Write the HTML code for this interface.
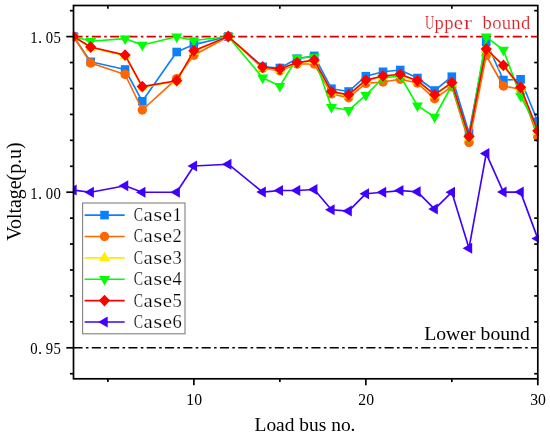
<!DOCTYPE html><html><head><meta charset="utf-8"><style>html,body{margin:0;padding:0;background:#fff}svg{display:block}text{font-family:"Liberation Serif",serif}</style></head><body>
<svg width="550" height="438" viewBox="0 0 550 438">
<rect width="550" height="438" fill="#fff"/>
<defs><clipPath id="cp"><rect x="72.9" y="5.5" width="465.79999999999995" height="373.3"/></clipPath><filter id="g" x="-5%" y="-5%" width="110%" height="110%" color-interpolation-filters="sRGB"><feOffset dx="0" dy="0"/></filter></defs>
<line x1="73.5" y1="36.6" x2="537.8" y2="36.6" stroke="#d40000" stroke-width="1.55" stroke-dasharray="9.1 3.3 2.6 3.3"/>
<line x1="73.5" y1="347.8" x2="537.8" y2="347.8" stroke="#000" stroke-width="1.45" stroke-dasharray="9.1 3.3 2.6 3.3"/>
<g clip-path="url(#cp)">
<polyline points="73.50,36.50 90.70,61.80 125.09,69.50 142.29,101.30 176.68,52.00 193.87,44.60 228.27,36.50 262.66,66.80 279.86,68.00 297.05,58.70 314.25,55.90 331.44,88.70 348.64,91.50 365.84,76.20 383.03,71.80 400.23,70.00 417.43,78.00 434.62,90.50 451.82,76.70 469.01,133.00 486.21,41.80 503.41,80.00 520.60,79.30 537.80,121.80" fill="none" stroke="#0a80ff" stroke-width="1.65" stroke-linejoin="round"/>
<rect x="69.20" y="32.20" width="8.6" height="8.6" fill="#0a80ff"/>
<rect x="86.40" y="57.50" width="8.6" height="8.6" fill="#0a80ff"/>
<rect x="120.79" y="65.20" width="8.6" height="8.6" fill="#0a80ff"/>
<rect x="137.99" y="97.00" width="8.6" height="8.6" fill="#0a80ff"/>
<rect x="172.38" y="47.70" width="8.6" height="8.6" fill="#0a80ff"/>
<rect x="189.57" y="40.30" width="8.6" height="8.6" fill="#0a80ff"/>
<rect x="223.97" y="32.20" width="8.6" height="8.6" fill="#0a80ff"/>
<rect x="258.36" y="62.50" width="8.6" height="8.6" fill="#0a80ff"/>
<rect x="275.56" y="63.70" width="8.6" height="8.6" fill="#0a80ff"/>
<rect x="292.75" y="54.40" width="8.6" height="8.6" fill="#0a80ff"/>
<rect x="309.95" y="51.60" width="8.6" height="8.6" fill="#0a80ff"/>
<rect x="327.14" y="84.40" width="8.6" height="8.6" fill="#0a80ff"/>
<rect x="344.34" y="87.20" width="8.6" height="8.6" fill="#0a80ff"/>
<rect x="361.54" y="71.90" width="8.6" height="8.6" fill="#0a80ff"/>
<rect x="378.73" y="67.50" width="8.6" height="8.6" fill="#0a80ff"/>
<rect x="395.93" y="65.70" width="8.6" height="8.6" fill="#0a80ff"/>
<rect x="413.13" y="73.70" width="8.6" height="8.6" fill="#0a80ff"/>
<rect x="430.32" y="86.20" width="8.6" height="8.6" fill="#0a80ff"/>
<rect x="447.52" y="72.40" width="8.6" height="8.6" fill="#0a80ff"/>
<rect x="464.71" y="128.70" width="8.6" height="8.6" fill="#0a80ff"/>
<rect x="481.91" y="37.50" width="8.6" height="8.6" fill="#0a80ff"/>
<rect x="499.11" y="75.70" width="8.6" height="8.6" fill="#0a80ff"/>
<rect x="516.30" y="75.00" width="8.6" height="8.6" fill="#0a80ff"/>
<rect x="533.50" y="117.50" width="8.6" height="8.6" fill="#0a80ff"/>
<polyline points="73.50,36.50 90.70,63.00 125.09,74.50 142.29,110.00 176.68,78.60 193.87,55.20 228.27,36.50 262.66,68.30 279.86,70.70 297.05,64.00 314.25,64.00 331.44,93.90 348.64,97.70 365.84,83.40 383.03,82.00 400.23,79.30 417.43,83.00 434.62,98.80 451.82,86.70 469.01,142.50 486.21,55.50 503.41,86.00 520.60,89.30 537.80,137.00" fill="none" stroke="#ff6600" stroke-width="1.65" stroke-linejoin="round"/>
<circle cx="73.50" cy="36.50" r="4.7" fill="#ff6600"/>
<circle cx="90.70" cy="63.00" r="4.7" fill="#ff6600"/>
<circle cx="125.09" cy="74.50" r="4.7" fill="#ff6600"/>
<circle cx="142.29" cy="110.00" r="4.7" fill="#ff6600"/>
<circle cx="176.68" cy="78.60" r="4.7" fill="#ff6600"/>
<circle cx="193.87" cy="55.20" r="4.7" fill="#ff6600"/>
<circle cx="228.27" cy="36.50" r="4.7" fill="#ff6600"/>
<circle cx="262.66" cy="68.30" r="4.7" fill="#ff6600"/>
<circle cx="279.86" cy="70.70" r="4.7" fill="#ff6600"/>
<circle cx="297.05" cy="64.00" r="4.7" fill="#ff6600"/>
<circle cx="314.25" cy="64.00" r="4.7" fill="#ff6600"/>
<circle cx="331.44" cy="93.90" r="4.7" fill="#ff6600"/>
<circle cx="348.64" cy="97.70" r="4.7" fill="#ff6600"/>
<circle cx="365.84" cy="83.40" r="4.7" fill="#ff6600"/>
<circle cx="383.03" cy="82.00" r="4.7" fill="#ff6600"/>
<circle cx="400.23" cy="79.30" r="4.7" fill="#ff6600"/>
<circle cx="417.43" cy="83.00" r="4.7" fill="#ff6600"/>
<circle cx="434.62" cy="98.80" r="4.7" fill="#ff6600"/>
<circle cx="451.82" cy="86.70" r="4.7" fill="#ff6600"/>
<circle cx="469.01" cy="142.50" r="4.7" fill="#ff6600"/>
<circle cx="486.21" cy="55.50" r="4.7" fill="#ff6600"/>
<circle cx="503.41" cy="86.00" r="4.7" fill="#ff6600"/>
<circle cx="520.60" cy="89.30" r="4.7" fill="#ff6600"/>
<circle cx="537.80" cy="137.00" r="4.7" fill="#ff6600"/>
<polyline points="73.50,36.50 90.70,47.70 125.09,55.80 142.29,87.30 176.68,81.40 193.87,51.50 228.27,36.50 262.66,67.70 279.86,69.80 297.05,63.30 314.25,60.80 331.44,92.30 348.64,95.40 365.84,80.80 383.03,76.70 400.23,75.00 417.43,81.40 434.62,95.40 451.82,83.30 469.01,137.20 486.21,49.70 503.41,66.00 520.60,88.00 537.80,131.50" fill="none" stroke="#ffee00" stroke-width="1.65" stroke-linejoin="round"/>
<polygon points="73.50,30.15 68.00,39.68 79.00,39.68" fill="#ffee00"/>
<polygon points="90.70,41.35 85.20,50.88 96.20,50.88" fill="#ffee00"/>
<polygon points="125.09,49.45 119.59,58.98 130.59,58.98" fill="#ffee00"/>
<polygon points="142.29,80.95 136.79,90.48 147.79,90.48" fill="#ffee00"/>
<polygon points="176.68,75.05 171.18,84.58 182.18,84.58" fill="#ffee00"/>
<polygon points="193.87,45.15 188.37,54.68 199.37,54.68" fill="#ffee00"/>
<polygon points="228.27,30.15 222.77,39.68 233.77,39.68" fill="#ffee00"/>
<polygon points="262.66,61.35 257.16,70.88 268.16,70.88" fill="#ffee00"/>
<polygon points="279.86,63.45 274.36,72.98 285.36,72.98" fill="#ffee00"/>
<polygon points="297.05,56.95 291.55,66.48 302.55,66.48" fill="#ffee00"/>
<polygon points="314.25,54.45 308.75,63.98 319.75,63.98" fill="#ffee00"/>
<polygon points="331.44,85.95 325.94,95.48 336.94,95.48" fill="#ffee00"/>
<polygon points="348.64,89.05 343.14,98.58 354.14,98.58" fill="#ffee00"/>
<polygon points="365.84,74.45 360.34,83.98 371.34,83.98" fill="#ffee00"/>
<polygon points="383.03,70.35 377.53,79.88 388.53,79.88" fill="#ffee00"/>
<polygon points="400.23,68.65 394.73,78.18 405.73,78.18" fill="#ffee00"/>
<polygon points="417.43,75.05 411.93,84.58 422.93,84.58" fill="#ffee00"/>
<polygon points="434.62,89.05 429.12,98.58 440.12,98.58" fill="#ffee00"/>
<polygon points="451.82,76.95 446.32,86.48 457.32,86.48" fill="#ffee00"/>
<polygon points="469.01,130.85 463.51,140.38 474.51,140.38" fill="#ffee00"/>
<polygon points="486.21,43.35 480.71,52.88 491.71,52.88" fill="#ffee00"/>
<polygon points="503.41,59.65 497.91,69.18 508.91,69.18" fill="#ffee00"/>
<polygon points="520.60,81.65 515.10,91.18 526.10,91.18" fill="#ffee00"/>
<polygon points="537.80,125.15 532.30,134.68 543.30,134.68" fill="#ffee00"/>
<polyline points="73.50,36.50 90.70,41.30 125.09,38.60 142.29,45.00 176.68,36.80 193.87,40.50 228.27,36.50 262.66,77.80 279.86,86.10 297.05,58.00 314.25,56.90 331.44,107.20 348.64,110.30 365.84,95.10 383.03,78.00 400.23,76.00 417.43,105.60 434.62,117.00 451.82,85.50 469.01,138.00 486.21,36.80 503.41,50.00 520.60,96.00 537.80,128.80" fill="none" stroke="#00ff00" stroke-width="1.65" stroke-linejoin="round"/>
<polygon points="73.50,42.85 68.00,33.32 79.00,33.32" fill="#00ff00"/>
<polygon points="90.70,47.65 85.20,38.12 96.20,38.12" fill="#00ff00"/>
<polygon points="125.09,44.95 119.59,35.42 130.59,35.42" fill="#00ff00"/>
<polygon points="142.29,51.35 136.79,41.82 147.79,41.82" fill="#00ff00"/>
<polygon points="176.68,43.15 171.18,33.62 182.18,33.62" fill="#00ff00"/>
<polygon points="193.87,46.85 188.37,37.32 199.37,37.32" fill="#00ff00"/>
<polygon points="228.27,42.85 222.77,33.32 233.77,33.32" fill="#00ff00"/>
<polygon points="262.66,84.15 257.16,74.62 268.16,74.62" fill="#00ff00"/>
<polygon points="279.86,92.45 274.36,82.92 285.36,82.92" fill="#00ff00"/>
<polygon points="297.05,64.35 291.55,54.82 302.55,54.82" fill="#00ff00"/>
<polygon points="314.25,63.25 308.75,53.72 319.75,53.72" fill="#00ff00"/>
<polygon points="331.44,113.55 325.94,104.02 336.94,104.02" fill="#00ff00"/>
<polygon points="348.64,116.65 343.14,107.12 354.14,107.12" fill="#00ff00"/>
<polygon points="365.84,101.45 360.34,91.92 371.34,91.92" fill="#00ff00"/>
<polygon points="383.03,84.35 377.53,74.82 388.53,74.82" fill="#00ff00"/>
<polygon points="400.23,82.35 394.73,72.82 405.73,72.82" fill="#00ff00"/>
<polygon points="417.43,111.95 411.93,102.42 422.93,102.42" fill="#00ff00"/>
<polygon points="434.62,123.35 429.12,113.82 440.12,113.82" fill="#00ff00"/>
<polygon points="451.82,91.85 446.32,82.32 457.32,82.32" fill="#00ff00"/>
<polygon points="469.01,144.35 463.51,134.82 474.51,134.82" fill="#00ff00"/>
<polygon points="486.21,43.15 480.71,33.62 491.71,33.62" fill="#00ff00"/>
<polygon points="503.41,56.35 497.91,46.82 508.91,46.82" fill="#00ff00"/>
<polygon points="520.60,102.35 515.10,92.82 526.10,92.82" fill="#00ff00"/>
<polygon points="537.80,135.15 532.30,125.62 543.30,125.62" fill="#00ff00"/>
<polyline points="73.50,36.50 90.70,47.00 125.09,55.10 142.29,86.60 176.68,80.70 193.87,50.80 228.27,36.50 262.66,67.00 279.86,69.10 297.05,62.60 314.25,60.10 331.44,91.60 348.64,94.70 365.84,80.10 383.03,76.00 400.23,74.30 417.43,80.70 434.62,94.70 451.82,82.60 469.01,136.50 486.21,49.00 503.41,65.30 520.60,87.30 537.80,130.80" fill="none" stroke="#ff0000" stroke-width="1.65" stroke-linejoin="round"/>
<polygon points="73.50,30.60 79.10,36.50 73.50,42.40 67.90,36.50" fill="#ff0000"/>
<polygon points="90.70,41.10 96.30,47.00 90.70,52.90 85.10,47.00" fill="#ff0000"/>
<polygon points="125.09,49.20 130.69,55.10 125.09,61.00 119.49,55.10" fill="#ff0000"/>
<polygon points="142.29,80.70 147.89,86.60 142.29,92.50 136.69,86.60" fill="#ff0000"/>
<polygon points="176.68,74.80 182.28,80.70 176.68,86.60 171.08,80.70" fill="#ff0000"/>
<polygon points="193.87,44.90 199.47,50.80 193.87,56.70 188.27,50.80" fill="#ff0000"/>
<polygon points="228.27,30.60 233.87,36.50 228.27,42.40 222.67,36.50" fill="#ff0000"/>
<polygon points="262.66,61.10 268.26,67.00 262.66,72.90 257.06,67.00" fill="#ff0000"/>
<polygon points="279.86,63.20 285.46,69.10 279.86,75.00 274.26,69.10" fill="#ff0000"/>
<polygon points="297.05,56.70 302.65,62.60 297.05,68.50 291.45,62.60" fill="#ff0000"/>
<polygon points="314.25,54.20 319.85,60.10 314.25,66.00 308.65,60.10" fill="#ff0000"/>
<polygon points="331.44,85.70 337.04,91.60 331.44,97.50 325.84,91.60" fill="#ff0000"/>
<polygon points="348.64,88.80 354.24,94.70 348.64,100.60 343.04,94.70" fill="#ff0000"/>
<polygon points="365.84,74.20 371.44,80.10 365.84,86.00 360.24,80.10" fill="#ff0000"/>
<polygon points="383.03,70.10 388.63,76.00 383.03,81.90 377.43,76.00" fill="#ff0000"/>
<polygon points="400.23,68.40 405.83,74.30 400.23,80.20 394.63,74.30" fill="#ff0000"/>
<polygon points="417.43,74.80 423.03,80.70 417.43,86.60 411.83,80.70" fill="#ff0000"/>
<polygon points="434.62,88.80 440.22,94.70 434.62,100.60 429.02,94.70" fill="#ff0000"/>
<polygon points="451.82,76.70 457.42,82.60 451.82,88.50 446.22,82.60" fill="#ff0000"/>
<polygon points="469.01,130.60 474.61,136.50 469.01,142.40 463.41,136.50" fill="#ff0000"/>
<polygon points="486.21,43.10 491.81,49.00 486.21,54.90 480.61,49.00" fill="#ff0000"/>
<polygon points="503.41,59.40 509.01,65.30 503.41,71.20 497.81,65.30" fill="#ff0000"/>
<polygon points="520.60,81.40 526.20,87.30 520.60,93.20 515.00,87.30" fill="#ff0000"/>
<polygon points="537.80,124.90 543.40,130.80 537.80,136.70 532.20,130.80" fill="#ff0000"/>
<polyline points="73.50,190.10 90.70,192.20 125.09,185.70 142.29,192.20 176.68,192.20 193.87,166.00 228.27,164.20 262.66,192.10 279.86,190.50 297.05,190.50 314.25,189.50 331.44,209.70 348.64,211.10 365.84,193.70 383.03,192.30 400.23,190.60 417.43,191.80 434.62,209.10 451.82,192.20 469.01,248.20 486.21,153.60 503.41,192.10 520.60,192.10 537.80,238.60" fill="none" stroke="#4000ff" stroke-width="1.65" stroke-linejoin="round"/>
<polygon points="67.15,190.10 76.68,184.60 76.68,195.60" fill="#4000ff"/>
<polygon points="84.35,192.20 93.87,186.70 93.87,197.70" fill="#4000ff"/>
<polygon points="118.74,185.70 128.26,180.20 128.26,191.20" fill="#4000ff"/>
<polygon points="135.93,192.20 145.46,186.70 145.46,197.70" fill="#4000ff"/>
<polygon points="170.33,192.20 179.85,186.70 179.85,197.70" fill="#4000ff"/>
<polygon points="187.52,166.00 197.05,160.50 197.05,171.50" fill="#4000ff"/>
<polygon points="221.92,164.20 231.44,158.70 231.44,169.70" fill="#4000ff"/>
<polygon points="256.31,192.10 265.83,186.60 265.83,197.60" fill="#4000ff"/>
<polygon points="273.50,190.50 283.03,185.00 283.03,196.00" fill="#4000ff"/>
<polygon points="290.70,190.50 300.23,185.00 300.23,196.00" fill="#4000ff"/>
<polygon points="307.90,189.50 317.42,184.00 317.42,195.00" fill="#4000ff"/>
<polygon points="325.09,209.70 334.62,204.20 334.62,215.20" fill="#4000ff"/>
<polygon points="342.29,211.10 351.82,205.60 351.82,216.60" fill="#4000ff"/>
<polygon points="359.49,193.70 369.01,188.20 369.01,199.20" fill="#4000ff"/>
<polygon points="376.68,192.30 386.21,186.80 386.21,197.80" fill="#4000ff"/>
<polygon points="393.88,190.60 403.41,185.10 403.41,196.10" fill="#4000ff"/>
<polygon points="411.08,191.80 420.60,186.30 420.60,197.30" fill="#4000ff"/>
<polygon points="428.27,209.10 437.80,203.60 437.80,214.60" fill="#4000ff"/>
<polygon points="445.47,192.20 454.99,186.70 454.99,197.70" fill="#4000ff"/>
<polygon points="462.66,248.20 472.19,242.70 472.19,253.70" fill="#4000ff"/>
<polygon points="479.86,153.60 489.39,148.10 489.39,159.10" fill="#4000ff"/>
<polygon points="497.06,192.10 506.58,186.60 506.58,197.60" fill="#4000ff"/>
<polygon points="514.25,192.10 523.78,186.60 523.78,197.60" fill="#4000ff"/>
<polygon points="531.45,238.60 540.98,233.10 540.98,244.10" fill="#4000ff"/>
</g>
<rect x="73.5" y="5.5" width="464.29999999999995" height="373.3" fill="none" stroke="#000" stroke-width="1.7"/>
<line x1="69.9" y1="10.67" x2="73.5" y2="10.67" stroke="#000" stroke-width="1.7"/>
<line x1="534.1999999999999" y1="10.67" x2="537.8" y2="10.67" stroke="#000" stroke-width="1.7"/>
<line x1="66.3" y1="36.60" x2="73.5" y2="36.60" stroke="#000" stroke-width="1.7"/>
<line x1="69.9" y1="62.53" x2="73.5" y2="62.53" stroke="#000" stroke-width="1.7"/>
<line x1="534.1999999999999" y1="62.53" x2="537.8" y2="62.53" stroke="#000" stroke-width="1.7"/>
<line x1="69.9" y1="88.47" x2="73.5" y2="88.47" stroke="#000" stroke-width="1.7"/>
<line x1="534.1999999999999" y1="88.47" x2="537.8" y2="88.47" stroke="#000" stroke-width="1.7"/>
<line x1="69.9" y1="114.40" x2="73.5" y2="114.40" stroke="#000" stroke-width="1.7"/>
<line x1="534.1999999999999" y1="114.40" x2="537.8" y2="114.40" stroke="#000" stroke-width="1.7"/>
<line x1="69.9" y1="140.33" x2="73.5" y2="140.33" stroke="#000" stroke-width="1.7"/>
<line x1="534.1999999999999" y1="140.33" x2="537.8" y2="140.33" stroke="#000" stroke-width="1.7"/>
<line x1="69.9" y1="166.27" x2="73.5" y2="166.27" stroke="#000" stroke-width="1.7"/>
<line x1="534.1999999999999" y1="166.27" x2="537.8" y2="166.27" stroke="#000" stroke-width="1.7"/>
<line x1="66.3" y1="192.20" x2="73.5" y2="192.20" stroke="#000" stroke-width="1.7"/>
<line x1="69.9" y1="218.13" x2="73.5" y2="218.13" stroke="#000" stroke-width="1.7"/>
<line x1="534.1999999999999" y1="218.13" x2="537.8" y2="218.13" stroke="#000" stroke-width="1.7"/>
<line x1="69.9" y1="244.07" x2="73.5" y2="244.07" stroke="#000" stroke-width="1.7"/>
<line x1="534.1999999999999" y1="244.07" x2="537.8" y2="244.07" stroke="#000" stroke-width="1.7"/>
<line x1="69.9" y1="270.00" x2="73.5" y2="270.00" stroke="#000" stroke-width="1.7"/>
<line x1="534.1999999999999" y1="270.00" x2="537.8" y2="270.00" stroke="#000" stroke-width="1.7"/>
<line x1="69.9" y1="295.93" x2="73.5" y2="295.93" stroke="#000" stroke-width="1.7"/>
<line x1="534.1999999999999" y1="295.93" x2="537.8" y2="295.93" stroke="#000" stroke-width="1.7"/>
<line x1="69.9" y1="321.87" x2="73.5" y2="321.87" stroke="#000" stroke-width="1.7"/>
<line x1="534.1999999999999" y1="321.87" x2="537.8" y2="321.87" stroke="#000" stroke-width="1.7"/>
<line x1="66.3" y1="347.80" x2="73.5" y2="347.80" stroke="#000" stroke-width="1.7"/>
<line x1="69.9" y1="373.73" x2="73.5" y2="373.73" stroke="#000" stroke-width="1.7"/>
<line x1="534.1999999999999" y1="373.73" x2="537.8" y2="373.73" stroke="#000" stroke-width="1.7"/>
<line x1="107.89" y1="378.8" x2="107.89" y2="382.1" stroke="#000" stroke-width="1.7"/>
<line x1="107.89" y1="5.5" x2="107.89" y2="8.8" stroke="#000" stroke-width="1.7"/>
<line x1="193.87" y1="378.8" x2="193.87" y2="385.3" stroke="#000" stroke-width="1.7"/>
<line x1="279.86" y1="378.8" x2="279.86" y2="382.1" stroke="#000" stroke-width="1.7"/>
<line x1="279.86" y1="5.5" x2="279.86" y2="8.8" stroke="#000" stroke-width="1.7"/>
<line x1="365.84" y1="378.8" x2="365.84" y2="385.3" stroke="#000" stroke-width="1.7"/>
<line x1="451.82" y1="378.8" x2="451.82" y2="382.1" stroke="#000" stroke-width="1.7"/>
<line x1="451.82" y1="5.5" x2="451.82" y2="8.8" stroke="#000" stroke-width="1.7"/>
<line x1="537.80" y1="378.8" x2="537.80" y2="385.3" stroke="#000" stroke-width="1.7"/>
<g filter="url(#g)">
<text transform="translate(33.88,42.9) scale(0.887,1)" font-size="16.6" text-anchor="middle" fill="#000" stroke="#fff" stroke-width="0.0">1</text><text transform="translate(40.08,42.9) scale(1.000,1)" font-size="16.6" text-anchor="middle" fill="#000" stroke="#fff" stroke-width="0.0">.</text><text transform="translate(49.38,42.9) scale(0.887,1)" font-size="16.6" text-anchor="middle" fill="#000" stroke="#fff" stroke-width="0.0">0</text><text transform="translate(57.12,42.9) scale(0.887,1)" font-size="16.6" text-anchor="middle" fill="#000" stroke="#fff" stroke-width="0.0">5</text>
<text transform="translate(33.88,198.50000000000003) scale(0.887,1)" font-size="16.6" text-anchor="middle" fill="#000" stroke="#fff" stroke-width="0.0">1</text><text transform="translate(40.08,198.50000000000003) scale(1.000,1)" font-size="16.6" text-anchor="middle" fill="#000" stroke="#fff" stroke-width="0.0">.</text><text transform="translate(49.38,198.50000000000003) scale(0.887,1)" font-size="16.6" text-anchor="middle" fill="#000" stroke="#fff" stroke-width="0.0">0</text><text transform="translate(57.12,198.50000000000003) scale(0.887,1)" font-size="16.6" text-anchor="middle" fill="#000" stroke="#fff" stroke-width="0.0">0</text>
<text transform="translate(33.88,354.1) scale(0.887,1)" font-size="16.6" text-anchor="middle" fill="#000" stroke="#fff" stroke-width="0.0">0</text><text transform="translate(40.08,354.1) scale(1.000,1)" font-size="16.6" text-anchor="middle" fill="#000" stroke="#fff" stroke-width="0.0">.</text><text transform="translate(49.38,354.1) scale(0.887,1)" font-size="16.6" text-anchor="middle" fill="#000" stroke="#fff" stroke-width="0.0">9</text><text transform="translate(57.12,354.1) scale(0.887,1)" font-size="16.6" text-anchor="middle" fill="#000" stroke="#fff" stroke-width="0.0">5</text>
<text x="194.17" y="405.0" font-size="15.7" text-anchor="middle">10</text>
<text x="366.14" y="405.0" font-size="15.7" text-anchor="middle">20</text>
<text x="538.10" y="405.0" font-size="15.7" text-anchor="middle">30</text>
<text x="305" y="431.4" font-size="19.45" text-anchor="middle">Load bus no.</text>
<text transform="translate(21.4,191.6) rotate(-90)" font-size="19.9" text-anchor="middle">Voltage(p.u)</text>
<text x="477.0" y="339.7" font-size="19.7" text-anchor="middle">Lower bound</text>
<text transform="translate(429.60,28.7) scale(0.668,1)" font-size="19.3" text-anchor="middle" fill="#d62428" stroke="#fff" stroke-width="0.15">U</text><text transform="translate(439.20,28.7) scale(0.965,1)" font-size="19.3" text-anchor="middle" fill="#d62428" stroke="#fff" stroke-width="0.15">p</text><text transform="translate(448.80,28.7) scale(0.965,1)" font-size="19.3" text-anchor="middle" fill="#d62428" stroke="#fff" stroke-width="0.15">p</text><text transform="translate(458.40,28.7) scale(1.087,1)" font-size="19.3" text-anchor="middle" fill="#d62428" stroke="#fff" stroke-width="0.15">e</text><text transform="translate(468.00,28.7) scale(1.250,1)" font-size="19.3" text-anchor="middle" fill="#d62428" stroke="#fff" stroke-width="0.15">r</text><text transform="translate(487.20,28.7) scale(0.965,1)" font-size="19.3" text-anchor="middle" fill="#d62428" stroke="#fff" stroke-width="0.15">b</text><text transform="translate(496.80,28.7) scale(0.965,1)" font-size="19.3" text-anchor="middle" fill="#d62428" stroke="#fff" stroke-width="0.15">o</text><text transform="translate(506.40,28.7) scale(0.965,1)" font-size="19.3" text-anchor="middle" fill="#d62428" stroke="#fff" stroke-width="0.15">u</text><text transform="translate(516.00,28.7) scale(0.965,1)" font-size="19.3" text-anchor="middle" fill="#d62428" stroke="#fff" stroke-width="0.15">n</text><text transform="translate(525.60,28.7) scale(0.965,1)" font-size="19.3" text-anchor="middle" fill="#d62428" stroke="#fff" stroke-width="0.15">d</text>
</g>
<rect x="82.6" y="203.0" width="102.4" height="130.8" fill="#fff" stroke="#808080" stroke-width="1.1"/>
<line x1="84.6" y1="215.10" x2="124.7" y2="215.10" stroke="#0a80ff" stroke-width="1.7"/>
<rect x="100.20" y="210.80" width="8.6" height="8.6" fill="#0a80ff"/>
<g filter="url(#g)"><text transform="translate(138.42,221.0) scale(0.747,1)" font-size="18.6" text-anchor="middle" fill="#000" stroke="#fff" stroke-width="0.2">C</text><text transform="translate(148.07,221.0) scale(1.122,1)" font-size="18.6" text-anchor="middle" fill="#000" stroke="#fff" stroke-width="0.2">a</text><text transform="translate(157.72,221.0) scale(1.250,1)" font-size="18.6" text-anchor="middle" fill="#000" stroke="#fff" stroke-width="0.2">s</text><text transform="translate(167.38,221.0) scale(1.122,1)" font-size="18.6" text-anchor="middle" fill="#000" stroke="#fff" stroke-width="0.2">e</text><text transform="translate(177.02,221.0) scale(0.996,1)" font-size="18.6" text-anchor="middle" fill="#000" stroke="#fff" stroke-width="0.2">1</text></g>
<line x1="84.6" y1="236.48" x2="124.7" y2="236.48" stroke="#ff6600" stroke-width="1.7"/>
<circle cx="104.50" cy="236.48" r="4.7" fill="#ff6600"/>
<g filter="url(#g)"><text transform="translate(138.42,242.38) scale(0.747,1)" font-size="18.6" text-anchor="middle" fill="#000" stroke="#fff" stroke-width="0.2">C</text><text transform="translate(148.07,242.38) scale(1.122,1)" font-size="18.6" text-anchor="middle" fill="#000" stroke="#fff" stroke-width="0.2">a</text><text transform="translate(157.72,242.38) scale(1.250,1)" font-size="18.6" text-anchor="middle" fill="#000" stroke="#fff" stroke-width="0.2">s</text><text transform="translate(167.38,242.38) scale(1.122,1)" font-size="18.6" text-anchor="middle" fill="#000" stroke="#fff" stroke-width="0.2">e</text><text transform="translate(177.02,242.38) scale(0.996,1)" font-size="18.6" text-anchor="middle" fill="#000" stroke="#fff" stroke-width="0.2">2</text></g>
<line x1="84.6" y1="257.86" x2="124.7" y2="257.86" stroke="#ffee00" stroke-width="1.7"/>
<polygon points="104.50,251.51 99.00,261.04 110.00,261.04" fill="#ffee00"/>
<g filter="url(#g)"><text transform="translate(138.42,263.76) scale(0.747,1)" font-size="18.6" text-anchor="middle" fill="#000" stroke="#fff" stroke-width="0.2">C</text><text transform="translate(148.07,263.76) scale(1.122,1)" font-size="18.6" text-anchor="middle" fill="#000" stroke="#fff" stroke-width="0.2">a</text><text transform="translate(157.72,263.76) scale(1.250,1)" font-size="18.6" text-anchor="middle" fill="#000" stroke="#fff" stroke-width="0.2">s</text><text transform="translate(167.38,263.76) scale(1.122,1)" font-size="18.6" text-anchor="middle" fill="#000" stroke="#fff" stroke-width="0.2">e</text><text transform="translate(177.02,263.76) scale(0.996,1)" font-size="18.6" text-anchor="middle" fill="#000" stroke="#fff" stroke-width="0.2">3</text></g>
<line x1="84.6" y1="279.24" x2="124.7" y2="279.24" stroke="#00ff00" stroke-width="1.7"/>
<polygon points="104.50,285.59 99.00,276.06 110.00,276.06" fill="#00ff00"/>
<g filter="url(#g)"><text transform="translate(138.42,285.14) scale(0.747,1)" font-size="18.6" text-anchor="middle" fill="#000" stroke="#fff" stroke-width="0.2">C</text><text transform="translate(148.07,285.14) scale(1.122,1)" font-size="18.6" text-anchor="middle" fill="#000" stroke="#fff" stroke-width="0.2">a</text><text transform="translate(157.72,285.14) scale(1.250,1)" font-size="18.6" text-anchor="middle" fill="#000" stroke="#fff" stroke-width="0.2">s</text><text transform="translate(167.38,285.14) scale(1.122,1)" font-size="18.6" text-anchor="middle" fill="#000" stroke="#fff" stroke-width="0.2">e</text><text transform="translate(177.02,285.14) scale(0.996,1)" font-size="18.6" text-anchor="middle" fill="#000" stroke="#fff" stroke-width="0.2">4</text></g>
<line x1="84.6" y1="300.62" x2="124.7" y2="300.62" stroke="#ff0000" stroke-width="1.7"/>
<polygon points="104.50,294.72 110.10,300.62 104.50,306.52 98.90,300.62" fill="#ff0000"/>
<g filter="url(#g)"><text transform="translate(138.42,306.52) scale(0.747,1)" font-size="18.6" text-anchor="middle" fill="#000" stroke="#fff" stroke-width="0.2">C</text><text transform="translate(148.07,306.52) scale(1.122,1)" font-size="18.6" text-anchor="middle" fill="#000" stroke="#fff" stroke-width="0.2">a</text><text transform="translate(157.72,306.52) scale(1.250,1)" font-size="18.6" text-anchor="middle" fill="#000" stroke="#fff" stroke-width="0.2">s</text><text transform="translate(167.38,306.52) scale(1.122,1)" font-size="18.6" text-anchor="middle" fill="#000" stroke="#fff" stroke-width="0.2">e</text><text transform="translate(177.02,306.52) scale(0.996,1)" font-size="18.6" text-anchor="middle" fill="#000" stroke="#fff" stroke-width="0.2">5</text></g>
<line x1="84.6" y1="322.00" x2="124.7" y2="322.00" stroke="#4000ff" stroke-width="1.7"/>
<polygon points="98.15,322.00 107.68,316.50 107.68,327.50" fill="#4000ff"/>
<g filter="url(#g)"><text transform="translate(138.42,327.9) scale(0.747,1)" font-size="18.6" text-anchor="middle" fill="#000" stroke="#fff" stroke-width="0.2">C</text><text transform="translate(148.07,327.9) scale(1.122,1)" font-size="18.6" text-anchor="middle" fill="#000" stroke="#fff" stroke-width="0.2">a</text><text transform="translate(157.72,327.9) scale(1.250,1)" font-size="18.6" text-anchor="middle" fill="#000" stroke="#fff" stroke-width="0.2">s</text><text transform="translate(167.38,327.9) scale(1.122,1)" font-size="18.6" text-anchor="middle" fill="#000" stroke="#fff" stroke-width="0.2">e</text><text transform="translate(177.02,327.9) scale(0.996,1)" font-size="18.6" text-anchor="middle" fill="#000" stroke="#fff" stroke-width="0.2">6</text></g>
</svg></body></html>
